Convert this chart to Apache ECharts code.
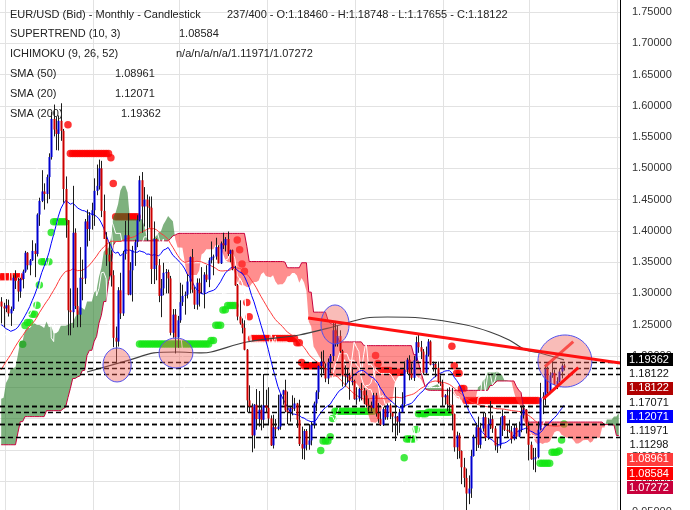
<!DOCTYPE html>
<html><head><meta charset="utf-8">
<script src="https://cdn.jsdelivr.net/npm/echarts@6/dist/echarts.min.js"></script>
<style>html,body{margin:0;padding:0;background:#fff}#c{width:690px;height:510px}</style>
</head><body><div id="c"></div>
<script>
// ---------------- DATA (EUR/USD monthly, Jun 2006 .. Feb 2026) ----------------
const startYear = 2006, startMonth = 6;
const opens = [
1.2870,1.2790,1.2760,1.2810,1.2680,1.2750,1.3250,
1.3200,1.3030,1.3230,1.3350,1.3650,1.3450,1.3530,1.3680,1.3630,1.4260,1.4480,1.4630,
1.4590,1.4860,1.5180,1.5790,1.5620,1.5550,1.5760,1.5600,1.4670,1.4170,1.2730,1.2700,
1.3970,1.2800,1.2660,1.3250,1.3240,1.4150,1.4030,1.4250,1.4330,1.4640,1.4720,1.5000,
1.4320,1.3870,1.3620,1.3510,1.3290,1.2290,1.2230,1.3050,1.2680,1.3630,1.3930,1.2980,
1.3370,1.3690,1.3820,1.4170,1.4810,1.4390,1.4500,1.4390,1.4370,1.3390,1.3870,1.3450,
1.2960,1.3080,1.3330,1.3340,1.3240,1.2370,1.2660,1.2300,1.2570,1.2860,1.2960,1.2980,
1.3190,1.3580,1.3060,1.2820,1.3170,1.3000,1.3010,1.3300,1.3220,1.3530,1.3580,1.3590,
1.3740,1.3480,1.3800,1.3770,1.3870,1.3630,1.3690,1.3390,1.3130,1.2630,1.2520,1.2450,
1.2100,1.1290,1.1190,1.0730,1.1220,1.0990,1.1140,1.0980,1.1210,1.1170,1.1000,1.0570,
1.0860,1.0830,1.0870,1.1380,1.1450,1.1130,1.1100,1.1170,1.1160,1.1240,1.0980,1.0590,
1.0520,1.0800,1.0580,1.0650,1.0900,1.1240,1.1420,1.1840,1.1910,1.1810,1.1640,1.1900,
1.2000,1.2410,1.2190,1.2320,1.2080,1.1690,1.1680,1.1690,1.1600,1.1600,1.1310,1.1320,
1.1470,1.1450,1.1370,1.1220,1.1210,1.1170,1.1370,1.1080,1.0990,1.0900,1.1150,1.1020,
1.1210,1.1090,1.1030,1.1030,1.0950,1.1100,1.1230,1.1780,1.1940,1.1720,1.1650,1.1930,
1.2220,1.2140,1.2070,1.1730,1.2020,1.2230,1.1860,1.1870,1.1810,1.1580,1.1560,1.1340,
1.1370,1.1230,1.1220,1.1070,1.0540,1.0730,1.0480,1.0220,1.0050,0.9800,0.9880,1.0400,
1.0700,1.0860,1.0580,1.0840,1.1020,1.0690,1.0910,1.0990,1.0840,1.0570,1.0570,1.0890,
1.1040,1.0820,1.0810,1.0790,1.0670,1.0850,1.0710,1.0820,1.1050,1.1140,1.0880,1.0580,
1.0350,1.0360,1.0380,1.0820,1.1330,1.1350,1.1790,1.1420,1.1690,1.1730,1.1540,1.1600,
1.1750,1.1846];
const highs = [
1.2940,1.2850,1.2910,1.2900,1.2790,1.3290,1.3370,
1.3250,1.3250,1.3380,1.3680,1.3660,1.3550,1.3850,1.3800,1.4280,1.4530,1.4970,1.4760,
1.4900,1.5240,1.5900,1.6020,1.5820,1.5845,1.6040,1.5630,1.4870,1.4170,1.3080,1.4720,
1.4040,1.3090,1.3740,1.3540,1.4190,1.4340,1.4300,1.4450,1.4840,1.5060,1.5140,1.5120,
1.4580,1.3980,1.3820,1.3690,1.3370,1.2470,1.3100,1.3330,1.3680,1.4160,1.4280,1.3500,
1.3760,1.3860,1.4250,1.4880,1.4940,1.4700,1.4580,1.4550,1.4550,1.4150,1.3880,1.3550,
1.3230,1.3490,1.3390,1.3380,1.3280,1.2750,1.2750,1.2640,1.3170,1.3140,1.3030,1.3310,
1.3590,1.3710,1.3100,1.3240,1.3240,1.3420,1.3340,1.3450,1.3570,1.3830,1.3620,1.3890,
1.3770,1.3830,1.3970,1.3900,1.3990,1.3700,1.3700,1.3440,1.3150,1.2890,1.2600,1.2570,
1.2110,1.1530,1.1240,1.1230,1.1470,1.1440,1.1220,1.1710,1.1460,1.1500,1.1050,1.1060,
1.0990,1.1380,1.1390,1.1460,1.1620,1.1430,1.1190,1.1370,1.1330,1.1250,1.1300,1.0870,
1.0830,1.0830,1.0910,1.0950,1.1270,1.1450,1.1850,1.2070,1.2090,1.1880,1.1960,1.2030,
1.2540,1.2560,1.2480,1.2410,1.2100,1.1850,1.1790,1.1730,1.1820,1.1620,1.1500,1.1490,
1.1570,1.1490,1.1450,1.1320,1.1270,1.1410,1.1410,1.1250,1.1110,1.1180,1.1180,1.1240,
1.1240,1.1100,1.1500,1.1040,1.1150,1.1420,1.1910,1.1970,1.2010,1.1880,1.2000,1.2310,
1.2350,1.2240,1.2110,1.2150,1.2270,1.2250,1.1910,1.1900,1.1910,1.1690,1.1620,1.1390,
1.1480,1.1500,1.1490,1.1080,1.0790,1.0770,1.0490,1.0370,1.0200,1.0090,1.0500,1.0740,
1.0930,1.1030,1.0930,1.1100,1.1090,1.1010,1.1280,1.1050,1.0880,1.0700,1.1020,1.1140,
1.1050,1.0900,1.0980,1.0880,1.0900,1.0920,1.0950,1.1200,1.1210,1.1150,1.0940,1.0630,
1.0530,1.0530,1.0950,1.1570,1.1420,1.1830,1.1830,1.1740,1.1919,1.1780,1.1660,1.1800,
1.1880,1.1875];
const lows = [
1.2520,1.2460,1.2700,1.2630,1.2480,1.2720,1.3070,
1.2870,1.2930,1.3080,1.3330,1.3380,1.3290,1.3520,1.3260,1.3590,1.4080,1.4460,1.4340,
1.4440,1.4510,1.5140,1.5510,1.5290,1.5285,1.5440,1.4450,1.3890,1.2330,1.2330,1.2450,
1.2750,1.2460,1.2460,1.2890,1.3150,1.3750,1.3840,1.4020,1.4080,1.4570,1.4660,1.4220,
1.3870,1.3440,1.3270,1.3110,1.2140,1.1880,1.2150,1.2590,1.2640,1.3540,1.2970,1.2970,
1.2870,1.3440,1.3740,1.4150,1.3970,1.4070,1.3840,1.4050,1.3150,1.3150,1.3210,1.2860,
1.2620,1.2970,1.3000,1.3000,1.2330,1.2290,1.2040,1.2130,1.2530,1.2800,1.2660,1.2920,
1.3000,1.3010,1.2750,1.2740,1.2790,1.2990,1.2760,1.3180,1.3100,1.3480,1.3290,1.3540,
1.3480,1.3470,1.3710,1.3670,1.3600,1.3500,1.3370,1.3120,1.2570,1.2500,1.2360,1.2090,
1.1100,1.1100,1.0460,1.0520,1.0820,1.0870,1.0810,1.0850,1.1090,1.0900,1.0560,1.0520,
1.0710,1.0810,1.0820,1.1220,1.1100,1.0910,1.0950,1.1050,1.1120,1.0850,1.0560,1.0350,
1.0340,1.0490,1.0500,1.0570,1.0840,1.1120,1.1310,1.1660,1.1720,1.1580,1.1550,1.1720,
1.1920,1.2150,1.2150,1.2050,1.1510,1.1510,1.1580,1.1300,1.1530,1.1300,1.1220,1.1270,
1.1290,1.1230,1.1180,1.1110,1.1110,1.1160,1.1030,1.0930,1.0880,1.0880,1.0980,1.0980,
1.0990,1.0780,1.0640,1.0730,1.0770,1.1090,1.1190,1.1710,1.1610,1.1620,1.1600,1.1920,
1.2050,1.1950,1.1700,1.1700,1.1990,1.1850,1.1750,1.1660,1.1560,1.1520,1.1190,1.1220,
1.1120,1.1110,1.0810,1.0470,1.0350,1.0360,0.9950,0.9900,0.9536,0.9630,0.9730,1.0390,
1.0480,1.0530,1.0520,1.0790,1.0640,1.0660,1.0830,1.0770,1.0490,1.0450,1.0520,1.0720,
1.0800,1.0700,1.0770,1.0600,1.0650,1.0670,1.0700,1.0780,1.1000,1.0760,1.0330,1.0340,
1.0180,1.0141,1.0360,1.0810,1.1070,1.1210,1.1390,1.1390,1.1650,1.1540,1.1470,1.1580,
1.1640,1.1766];
const closes = [
1.2790,1.2760,1.2810,1.2680,1.2750,1.3250,1.3200,
1.3030,1.3230,1.3350,1.3650,1.3450,1.3530,1.3680,1.3630,1.4260,1.4480,1.4630,1.4590,
1.4860,1.5180,1.5790,1.5620,1.5550,1.5760,1.5600,1.4670,1.4170,1.2730,1.2700,1.3970,
1.2800,1.2660,1.3250,1.3240,1.4150,1.4030,1.4250,1.4330,1.4640,1.4720,1.5000,1.4320,
1.3870,1.3620,1.3510,1.3290,1.2290,1.2230,1.3050,1.2680,1.3630,1.3930,1.2980,1.3370,
1.3690,1.3820,1.4170,1.4810,1.4390,1.4500,1.4390,1.4370,1.3390,1.3870,1.3450,1.2960,
1.3080,1.3330,1.3340,1.3240,1.2370,1.2660,1.2300,1.2570,1.2860,1.2960,1.2980,1.3190,
1.3580,1.3060,1.2820,1.3170,1.3000,1.3010,1.3300,1.3220,1.3530,1.3580,1.3590,1.3740,
1.3480,1.3800,1.3770,1.3870,1.3630,1.3690,1.3390,1.3130,1.2630,1.2520,1.2450,1.2100,
1.1290,1.1190,1.0730,1.1220,1.0990,1.1140,1.0980,1.1210,1.1170,1.1000,1.0570,1.0860,
1.0830,1.0870,1.1380,1.1450,1.1130,1.1100,1.1170,1.1160,1.1240,1.0980,1.0590,1.0520,
1.0800,1.0580,1.0650,1.0900,1.1240,1.1420,1.1840,1.1910,1.1810,1.1640,1.1900,1.2000,
1.2410,1.2190,1.2320,1.2080,1.1690,1.1680,1.1690,1.1600,1.1600,1.1310,1.1320,1.1470,
1.1450,1.1370,1.1220,1.1210,1.1170,1.1370,1.1080,1.0990,1.0900,1.1150,1.1020,1.1210,
1.1090,1.1030,1.1030,1.0950,1.1100,1.1230,1.1780,1.1940,1.1720,1.1650,1.1930,1.2220,
1.2140,1.2070,1.1730,1.2020,1.2230,1.1860,1.1870,1.1810,1.1580,1.1560,1.1340,1.1370,
1.1230,1.1220,1.1070,1.0540,1.0730,1.0480,1.0220,1.0050,0.9800,0.9880,1.0400,1.0700,
1.0860,1.0580,1.0840,1.1020,1.0690,1.0910,1.0990,1.0840,1.0570,1.0570,1.0890,1.1040,
1.0820,1.0810,1.0790,1.0670,1.0850,1.0710,1.0820,1.1050,1.1140,1.0880,1.0580,1.0350,
1.0360,1.0380,1.0820,1.1330,1.1350,1.1790,1.1420,1.1690,1.1730,1.1540,1.1600,1.1750,
1.1846,1.1812];

// bars before the visible window (Jan 2000 .. May 2006), needed by the indicators
const priorHighs = [
1.0410,0.9890,0.9780,0.9720,0.9400,0.9620,0.9580,0.9340,0.9000,0.8830,0.8760,0.9490,
0.9590,0.9390,0.9390,0.9100,0.8950,0.8680,0.8820,0.9200,0.9320,0.9180,0.9050,0.9050,
0.9040,0.8820,0.8840,0.9030,0.9380,0.9950,1.0190,0.9920,0.9950,0.9920,1.0150,1.0500,
1.0850,1.0940,1.1080,1.1230,1.1930,1.1930,1.1640,1.1420,1.1680,1.1860,1.2040,1.2650,
1.2900,1.2930,1.2500,1.2390,1.2280,1.2310,1.2440,1.2330,1.2440,1.2840,1.3310,1.3670,
1.3590,1.3280,1.3480,1.3120,1.2940,1.2360,1.2200,1.2480,1.2500,1.2160,1.2140,1.2110,
1.2320,1.2170,1.2260,1.2630,1.2980];
const priorLows = [
0.9710,0.9610,0.9540,0.9000,0.8840,0.9310,0.9190,0.8790,0.8470,0.8230,0.8400,0.8720,
0.9150,0.9050,0.8740,0.8750,0.8440,0.8390,0.8390,0.8750,0.8950,0.8920,0.8760,0.8780,
0.8580,0.8580,0.8640,0.8690,0.9000,0.9290,0.9720,0.9610,0.9660,0.9690,0.9860,0.9870,
1.0340,1.0690,1.0500,1.0620,1.1170,1.1410,1.1140,1.0770,1.0770,1.1540,1.1410,1.1960,
1.2350,1.2370,1.2080,1.1760,1.1760,1.1960,1.1990,1.1950,1.2010,1.2260,1.2720,1.3160,
1.2890,1.2760,1.2830,1.2760,1.2300,1.1980,1.1870,1.2060,1.1950,1.1870,1.1640,1.1710,
1.1800,1.1830,1.1870,1.2070,1.2560];
const priorCloses = [
0.9710,0.9640,0.9570,0.9110,0.9330,0.9530,0.9270,0.8880,0.8830,0.8480,0.8740,0.9390,
0.9300,0.9210,0.8790,0.8870,0.8460,0.8480,0.8780,0.9120,0.9120,0.9030,0.8930,0.8900,
0.8600,0.8680,0.8720,0.9010,0.9330,0.9860,0.9780,0.9810,0.9870,0.9890,0.9920,1.0480,
1.0780,1.0770,1.0910,1.1170,1.1790,1.1480,1.1240,1.0990,1.1650,1.1600,1.1990,1.2590,
1.2460,1.2470,1.2300,1.1980,1.2200,1.2170,1.2030,1.2180,1.2420,1.2760,1.3290,1.3560,
1.3040,1.3230,1.2960,1.2870,1.2340,1.2100,1.2130,1.2330,1.2040,1.1990,1.1790,1.1850,
1.2160,1.1920,1.2120,1.2620,1.2870];

// SMA(200) at a few bars: [bar index, value]
const sma200Readings = [[36,1.1744],[54,1.1936],[64,1.2048],[74,1.2063],[84,1.2048],[88,1.2063],
[103,1.2223],[125,1.2335],[139,1.2463],[153,1.2607],[162,1.2623],[176,1.2607],[195,1.2495],
[205,1.2383],[213,1.2255],[220,1.2095],[226,1.2047],[236,1.19362]];

// right-hand value flags (top to bottom) and which study they belong to
const levelValues = [1.19362,1.18122,1.18122,1.17071,1.12071,1.11971,1.11298,1.08961,1.08584,1.07272];
const levelKinds  = ['sma200','chikou','close','tenkan','sma20','spanA','kijun','sma50','supertrend','spanB'];

// y-axis ticks
const yMin = 0.95, yMax = 1.80, yStep = 0.05;

// legend texts
const headerTitle = 'EUR/USD (Bid) - Monthly - Candlestick';
const headerOhlc = '237/400 - O:1.18460 - H:1.18748 - L:1.17655 - C:1.18122';
const studyNames  = ['SUPERTREND (10, 3)','ICHIMOKU (9, 26, 52)','SMA (50)','SMA (20)','SMA (200)'];
const studyValues = ['1.08584','n/a/n/a/n/a/1.11971/1.07272','1.08961','1.12071','1.19362'];

// drawn annotations in data units: ellipses [bar, price, half-width bars, half-height price]
const ellipseNotes = [[48.6,1.1856,5.9,0.0272],[73.3,1.2047,7.1,0.0240],[140.0,1.2503,5.9,0.0312],[236.4,1.1919,11.3,0.0416]];
// lines [bar1, price1, bar2, price2]
const trendNotes = [[128.7,1.2607,259.6,1.1888],[227.3,1.1312,242.0,1.1812]];
const softNotes  = [[228.0,1.1828,239.9,1.2228]];

// ---------------- derived studies ----------------
const N_CAT = 260;
const P = priorCloses.length;
const nBars = closes.length;
const allH = priorHighs.concat(highs), allL = priorLows.concat(lows), allC = priorCloses.concat(closes);
const cats = [];
for (let j = 0; j < N_CAT; j++) { const m = startMonth - 1 + j; cats.push((startYear + Math.floor(m/12)) + '-' + String(m%12+1).padStart(2,'0')); }

function sma(n){ return closes.map((_,i)=>{ const g=P+i; if(g-n+1<0) return null; let s=0; for(let k=g-n+1;k<=g;k++) s+=allC[k]; return s/n; }); }
function mid(g,len){ if(g-len+1<0||g>=allC.length) return null; let hi=-Infinity, lo=Infinity; for(let k=g-len+1;k<=g;k++){ if(allH[k]>hi)hi=allH[k]; if(allL[k]<lo)lo=allL[k]; } return (hi+lo)/2; }
const sma20 = sma(20), sma50 = sma(50);
const tenkan = closes.map((_,i)=>mid(P+i,9));
const kijun = closes.map((_,i)=>mid(P+i,26));
const spanA = [], spanB = [];
for (let j=0;j<N_CAT;j++){ const g=P+j-26; if(g>=allC.length){spanA.push(null);spanB.push(null);continue;}
  const t=mid(g,9), k=mid(g,26), b=mid(g,52); spanA.push(t!=null&&k!=null?(t+k)/2:null); spanB.push(b); }
const chikou = []; for (let j=0;j<nBars-26;j++) chikou.push(closes[j+26]);

// supertrend (10,3) with a simple moving average of the true range
const stUp = [], stDn = [];
(function(){ const per=10, mult=3, n=allC.length; const tr=[]; for(let g=0;g<n;g++){ tr.push(g===0?allH[g]-allL[g]:Math.max(allH[g]-allL[g],Math.abs(allH[g]-allC[g-1]),Math.abs(allL[g]-allC[g-1]))); }
  let fu=null, fl=null, trend=1;
  for(let g=per-1;g<n;g++){
    let s=0; for(let k=g-per+1;k<=g;k++) s+=tr[k]; const atr=s/per;
    const hl=(allH[g]+allL[g])/2, bu=hl+mult*atr, bl=hl-mult*atr;
    if(fu===null){ fu=bu; fl=bl; }
    else { const pc=allC[g-1]; fu=(bu<fu||pc>fu)?bu:fu; fl=(bl>fl||pc<fl)?bl:fl; }
    if(trend===-1 && allC[g]>fu) trend=1; else if(trend===1 && allC[g]<fl) trend=-1;
    const i=g-P; if(i<0) continue;
    if(trend===1) stUp.push([i,fl]); else stDn.push([i,fu]);
  }
})();

// ---------------- chart ----------------
const FONT = '"Liberation Sans", Arial, sans-serif';
const chart = echarts.init(document.getElementById('c'));
const vGridIdx = [0,1,2,3,4,5,6,7].map(k=>Math.round(1.9+36.75*k));
function fracCoord(api, idx, val){ const i0=Math.floor(idx), f=idx-i0; const a=api.coord([i0,val]); if(!f) return a; const b=api.coord([i0+1,val]); return [a[0]+(b[0]-a[0])*f, a[1]]; }

const option = {
  animation:false, backgroundColor:'#ffffff',
  grid:{left:0,right:70,top:-19.3,bottom:-2.3,containLabel:false,outerBoundsMode:'none'},
  xAxis:{type:'category',data:cats,boundaryGap:true,axisLine:{show:false},axisTick:{show:false},axisLabel:{show:false},
    splitLine:{show:true,interval:(idx)=>vGridIdx.indexOf(idx)>=0,lineStyle:{color:'#e2e2e2',width:1}}},
  yAxis:{type:'value',position:'right',min:yMin,max:yMax,interval:yStep,scale:true,
    axisLine:{show:true,lineStyle:{color:'#000',width:1}},axisTick:{show:false},
    axisLabel:{margin:12,color:'#333',fontSize:11,fontFamily:FONT,formatter:v=>v.toFixed(5)},
    splitLine:{show:true,lineStyle:{color:'#e2e2e2',width:1}}},
  series:[
    {name:'ST up',type:'scatter',data:stUp,symbolSize:7.5,itemStyle:{color:'#14e614'},z:1,silent:true},
    {name:'ST dn',type:'scatter',data:stDn,symbolSize:7.5,itemStyle:{color:'#ff0000'},z:1,silent:true},
    {name:'cloud',type:'custom',data:[[0,1.2]],encode:{x:0,y:1},z:2,silent:true,clip:true,
      renderItem:function(params,api){
        const regions=[]; let cur=null, prevD=0, prevA=null;
        for(let j=0;j<N_CAT;j++){
          const A=spanA[j], B=spanB[j];
          if(A==null||B==null){ if(cur){regions.push(cur);cur=null;} continue; }
          const pa=api.coord([j,A]), pb=api.coord([j,B]); const d=A-B;
          const up = d>0?true:d<0?false:(cur?cur.up:true);
          if(!cur) cur={up,A:[pa],B:[pb]};
          else if(up===cur.up){ cur.A.push(pa); cur.B.push(pb); }
          else { const t=prevD/(prevD-d); const cp=[prevA[0]+(pa[0]-prevA[0])*t, prevA[1]+(pa[1]-prevA[1])*t];
            cur.A.push(cp); cur.B.push(cp); regions.push(cur); cur={up,A:[cp,pa],B:[cp,pb]}; }
          prevD=d; prevA=pa;
        }
        if(cur) regions.push(cur);
        return {type:'group',children:regions.map(r=>({type:'polygon',shape:{points:r.A.concat(r.B.slice().reverse())},
          style:{fill:r.up?'rgba(40,125,40,0.6)':'rgba(255,60,60,0.58)'}}))};
      }},
    {name:'spanB',type:'line',data:spanB,showSymbol:false,lineStyle:{color:'#c8003c',width:1},z:3,silent:true},
    {name:'tenkan',type:'line',data:tenkan,showSymbol:false,lineStyle:{color:'#ffffff',width:1},z:3,silent:true},
    {name:'kijun',type:'line',data:kijun,showSymbol:false,lineStyle:{color:'#ffffff',width:1},z:3,silent:true},
    {name:'chikou',type:'line',data:chikou,showSymbol:false,lineStyle:{color:'#ffffff',width:1},z:3,silent:true},
    {name:'SMA50',type:'line',data:sma50,showSymbol:false,lineStyle:{color:'#ff3b3b',width:1},z:4,silent:true},
    {name:'SMA200',type:'line',data:sma200Readings,smooth:0.3,showSymbol:false,lineStyle:{color:'#404040',width:1.2},z:4,silent:true},
    {name:'SMA20',type:'line',data:sma20,showSymbol:false,lineStyle:{color:'#0000ff',width:1},z:4,silent:true,
      markLine:{silent:true,symbol:['none','none'],label:{show:false},animation:false,
        lineStyle:{color:'#000',type:[5,3],width:1.3},
        data:[...new Set(levelValues)].map(v=>({yAxis:v}))}},
    {name:'candles',type:'custom',z:6,silent:true,clip:true,
      data:closes.map((c,i)=>[i,opens[i],highs[i],lows[i],c]),encode:{x:0,y:[1,2,3,4]},
      renderItem:function(params,api){
        const i=api.value(0), o=api.value(1), h=api.value(2), l=api.value(3), c=api.value(4);
        const po=api.coord([i,o]), pc=api.coord([i,c]), ph=api.coord([i,h]), pl=api.coord([i,l]);
        const xr=Math.round(po[0]);
        const top=Math.min(po[1],pc[1]), bh=Math.max(1,Math.abs(po[1]-pc[1]));
        return {type:'group',children:[
          {type:'line',shape:{x1:xr+0.5,y1:ph[1],x2:xr+0.5,y2:pl[1]},style:{stroke:'#1c1c1c',lineWidth:1}},
          {type:'rect',shape:{x:xr-0.5,y:top,width:2,height:bh},style:{fill:c>=o?'#0000d0':'#cc0000'}}
        ]};
      }},
    {name:'softNotes',type:'custom',z:7,silent:true,clip:true,data:softNotes,encode:{x:[0,2],y:[1,3]},
      renderItem:function(params,api){ const a=fracCoord(api,api.value(0),api.value(1)), b=fracCoord(api,api.value(2),api.value(3));
        return {type:'line',shape:{x1:a[0],y1:a[1],x2:b[0],y2:b[1]},style:{stroke:'rgba(255,0,0,0.75)',lineWidth:3}}; }},
    {name:'ellipses',type:'custom',z:8,silent:true,clip:true,data:ellipseNotes,encode:{x:0,y:1},
      renderItem:function(params,api){ const c=fracCoord(api,api.value(0),api.value(1));
        const bw=api.size([1,0])[0]; const rx=api.value(2)*bw; const ry=Math.abs(api.coord([0,api.value(1)+api.value(3)])[1]-c[1]);
        return {type:'ellipse',shape:{cx:c[0],cy:c[1],rx:rx,ry:ry},style:{fill:'rgba(240,95,85,0.42)',stroke:'#5050ee',lineWidth:1}}; }},
    {name:'trendNotes',type:'custom',z:9,silent:true,clip:true,data:trendNotes,encode:{x:[0,2],y:[1,3]},
      renderItem:function(params,api){ const a=fracCoord(api,api.value(0),api.value(1)), b=fracCoord(api,api.value(2),api.value(3));
        return {type:'line',shape:{x1:a[0],y1:a[1],x2:b[0],y2:b[1]},style:{stroke:'#ff1010',lineWidth:3}}; }}
  ]
};
chart.setOption(option);

// value flags on the right axis (stacked so they do not overlap)
const LEVEL_STYLE = {
  sma200:{bg:'#000000',fg:'#ffffff'}, chikou:{bg:'#ffffff',fg:'#111111'}, close:{bg:'#b00000',fg:'#ffffff'},
  tenkan:{bg:'#ffffff',fg:'#111111'}, sma20:{bg:'#0000ff',fg:'#ffffff'}, spanA:{bg:'#ffffff',fg:'#111111'},
  kijun:{bg:'#ffffff',fg:'#111111'}, sma50:{bg:'#ff3b3b',fg:'#ffffff'}, supertrend:{bg:'#ff0000',fg:'#ffffff'},
  spanB:{bg:'#c8003c',fg:'#ffffff'}
};
const gfx = [];
let prevY = -1e9;
levelValues.forEach((v,k)=>{
  let y = chart.convertToPixel({yAxisIndex:0}, v);
  y = Math.max(y, prevY + 14.2); prevY = y;
  const st = LEVEL_STYLE[levelKinds[k]];
  gfx.push({type:'rect',z:100,shape:{x:627,y:Math.round(y-6.5),width:46,height:13},style:{fill:st.bg}});
  gfx.push({type:'text',z:101,style:{x:649,y:Math.round(y),text:v.toFixed(5),fill:st.fg,font:'11px '+FONT,
    align:'center',verticalAlign:'middle',textAlign:'center',textVerticalAlign:'middle'}});
});
const txt = (x,y,s)=>({type:'text',z:90,style:{x:x,y:y,text:s,fill:'#222',font:'11px '+FONT,verticalAlign:'middle',textVerticalAlign:'middle'}});
gfx.push(txt(10,14.5,headerTitle), txt(227,14.5,headerOhlc));
const valX = [179,176,115,115,121];
studyNames.forEach((s,k)=>{ gfx.push(txt(10,34+20*k,s), txt(valX[k],34+20*k,studyValues[k])); });
chart.setOption({graphic:gfx});
</script></body></html>
